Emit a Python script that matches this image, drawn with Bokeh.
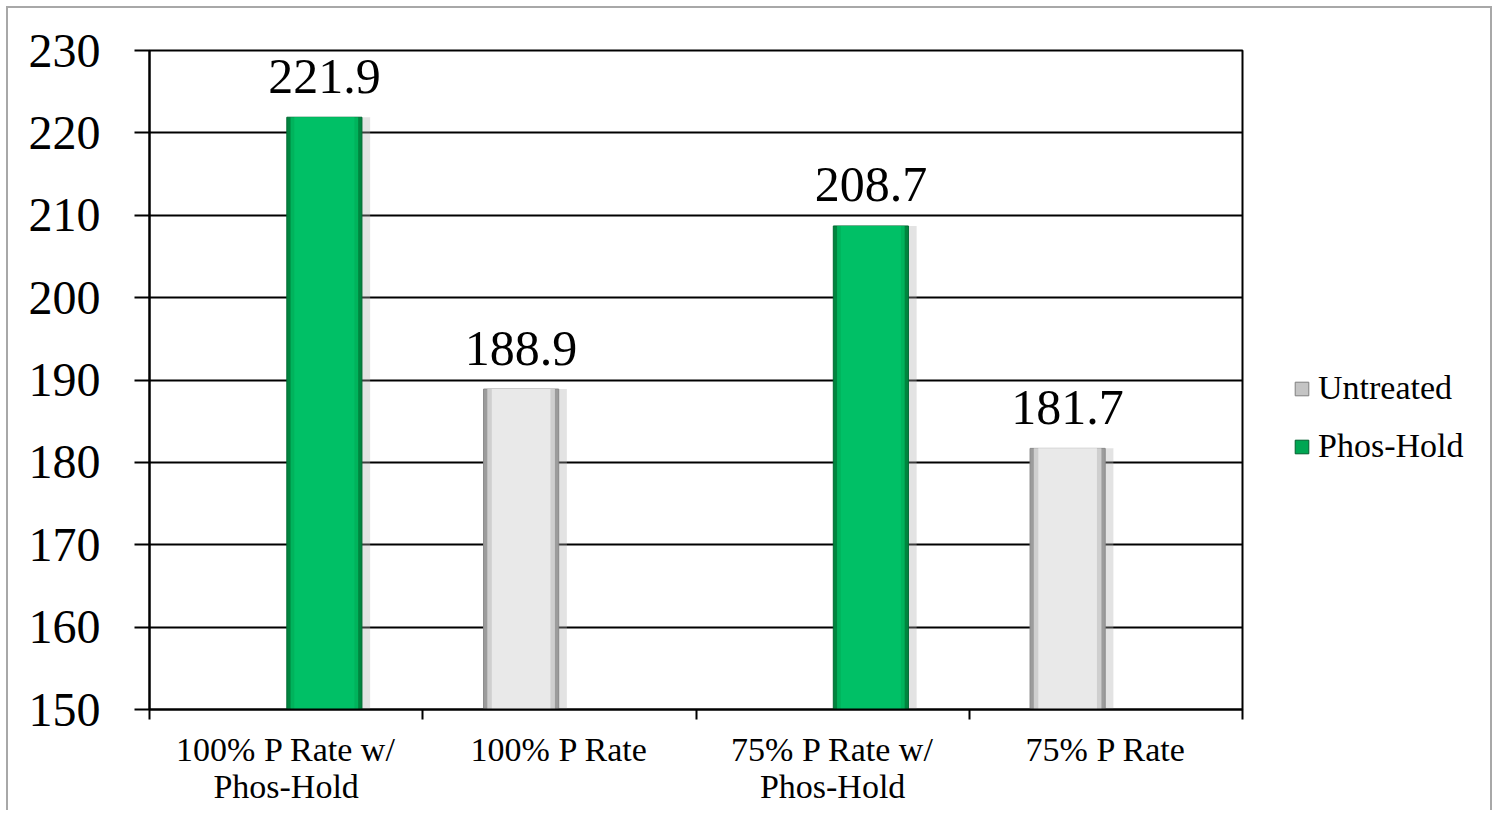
from bokeh.plotting import figure
from bokeh.layouts import row
from bokeh.models import ColumnDataSource, FixedTicker, Legend, LegendItem, Range1d
from bokeh.core.properties import value
from bokeh.embed import file_html
from bokeh.resources import INLINE

categories = ["100% P Rate w/\nPhos-Hold", "100% P Rate", "75% P Rate w/\nPhos-Hold", "75% P Rate"]
untreated = [None, 188.9, None, 181.7]
phos_hold = [221.9, None, 208.7, None]
y_ticks = [150, 160, 170, 180, 190, 200, 210, 220, 230]
series_names = ["Untreated", "Phos-Hold"]

FONT = "Liberation Serif"
BAR_W = 0.275
OFFSET = 0.14

def series_source(vals, off):
    xs, tops, labels = [], [], []
    for i, v in enumerate(vals):
        if v is not None:
            xs.append(i + 0.5 + off)
            tops.append(v)
            labels.append(f"{v:.1f}")
    return ColumnDataSource(dict(x=xs, top=tops, label=labels,
                                 xs=[x + 0.03 for x in xs]))

src_u = series_source(untreated, -OFFSET)
src_p = series_source(phos_hold, OFFSET)

p = figure(width=1236, height=802, output_backend="svg", toolbar_location=None,
           x_range=Range1d(0, len(categories)), y_range=Range1d(150, 230),
           min_border_left=141, min_border_top=42, min_border_right=2,
           min_border_bottom=101)

p.outline_line_color = "black"
p.outline_line_width = 2
p.xgrid.grid_line_color = None
p.ygrid.grid_line_color = "black"
p.ygrid.grid_line_width = 2
p.ygrid.ticker = FixedTicker(ticks=y_ticks)

# soft shadows to the right of the bars
for src in (src_u, src_p):
    p.vbar(x="xs", top="top", bottom=150, width=BAR_W, source=src,
           fill_color="#b0b0b0", fill_alpha=0.35, line_color=None)

# bars with layered bevel shading
p.vbar(x="x", top="top", bottom=150, width=BAR_W, source=src_u,
       fill_color="#9c9c9c", line_color="#8a8a8a", line_width=1)
p.vbar(x="x", top="top", bottom=150, width=BAR_W * 0.9, source=src_u,
       fill_color="#cfcfcf", line_color=None)
p.vbar(x="x", top="top", bottom=150, width=BAR_W * 0.78, source=src_u,
       fill_color="#e9e9e9", line_color=None)

p.vbar(x="x", top="top", bottom=150, width=BAR_W, source=src_p,
       fill_color="#00853f", line_color="#006b33", line_width=1)
p.vbar(x="x", top="top", bottom=150, width=BAR_W * 0.9, source=src_p,
       fill_color="#00b35c", line_color=None)
p.vbar(x="x", top="top", bottom=150, width=BAR_W * 0.8, source=src_p,
       fill_color="#00c066", line_color=None)

for src in (src_u, src_p):
    p.text(x="x", y="top", text="label", source=src, text_align="center",
           text_baseline="alphabetic", y_offset=-41, text_font=value(FONT),
           text_font_size="50px", text_color="black")

# axes
p.yaxis.ticker = FixedTicker(ticks=y_ticks)
p.yaxis.axis_line_width = 2
p.yaxis.axis_line_color = "black"
p.yaxis.major_tick_line_width = 2
p.yaxis.major_tick_out = 15
p.yaxis.major_tick_in = 0
p.yaxis.minor_tick_line_color = None
p.yaxis.major_label_text_font = FONT
p.yaxis.major_label_text_font_size = "48px"
p.yaxis.major_label_text_color = "black"
p.yaxis.major_label_standoff = 34

p.xaxis.ticker = FixedTicker(ticks=[i + 0.5 for i in range(len(categories))],
                             minor_ticks=list(range(len(categories) + 1)))
p.xaxis.major_label_overrides = {i + 0.5: c for i, c in enumerate(categories)}
p.xaxis.axis_line_width = 2
p.xaxis.axis_line_color = "black"
p.xaxis.major_tick_line_color = None
p.xaxis.major_tick_out = 0
p.xaxis.minor_tick_line_color = "black"
p.xaxis.minor_tick_line_width = 2
p.xaxis.minor_tick_out = 10
p.xaxis.minor_tick_in = 0
p.xaxis.major_label_text_font = FONT
p.xaxis.major_label_text_font_size = "34px"
p.xaxis.major_label_text_color = "black"
p.xaxis.major_label_standoff = 11
p.xaxis.major_label_text_line_height = 1.0

# legend panel (separate canvas to the right of the plot area)
lg = figure(width=246, height=802, output_backend="svg", toolbar_location=None,
            x_range=Range1d(0, 1), y_range=Range1d(0, 1),
            x_axis_type=None, y_axis_type=None, min_border=0)
lg.outline_line_color = None
lg.xgrid.grid_line_color = None
lg.ygrid.grid_line_color = None
# off-screen swatches: only used to give the legend its glyph colours
r_u = lg.vbar(x=[5], top=[0.5], width=0.1, fill_color="#c4c4c4", line_color="#7f7f7f")
r_p = lg.vbar(x=[5], top=[0.5], width=0.1, fill_color="#00a653", line_color="#005f2d")

legend = Legend(items=[LegendItem(label=series_names[0], renderers=[r_u]),
                       LegendItem(label=series_names[1], renderers=[r_p])],
                location=(49, 244), border_line_color=None,
                background_fill_alpha=0, padding=0, margin=0,
                glyph_width=17, glyph_height=17, label_height=36,
                spacing=20, label_standoff=8,
                label_text_font=FONT, label_text_font_size="34px",
                label_text_color="black")
lg.add_layout(legend, "center")

layout = row(p, lg, spacing=0)
layout.styles = {"margin-left": "6px", "margin-top": "6px",
                 "border-left": "2px solid #a8a8a8", "border-top": "2px solid #a8a8a8",
                 "border-right": "2px solid #a8a8a8"}

open("out.html", "w").write(file_html(layout, INLINE))
